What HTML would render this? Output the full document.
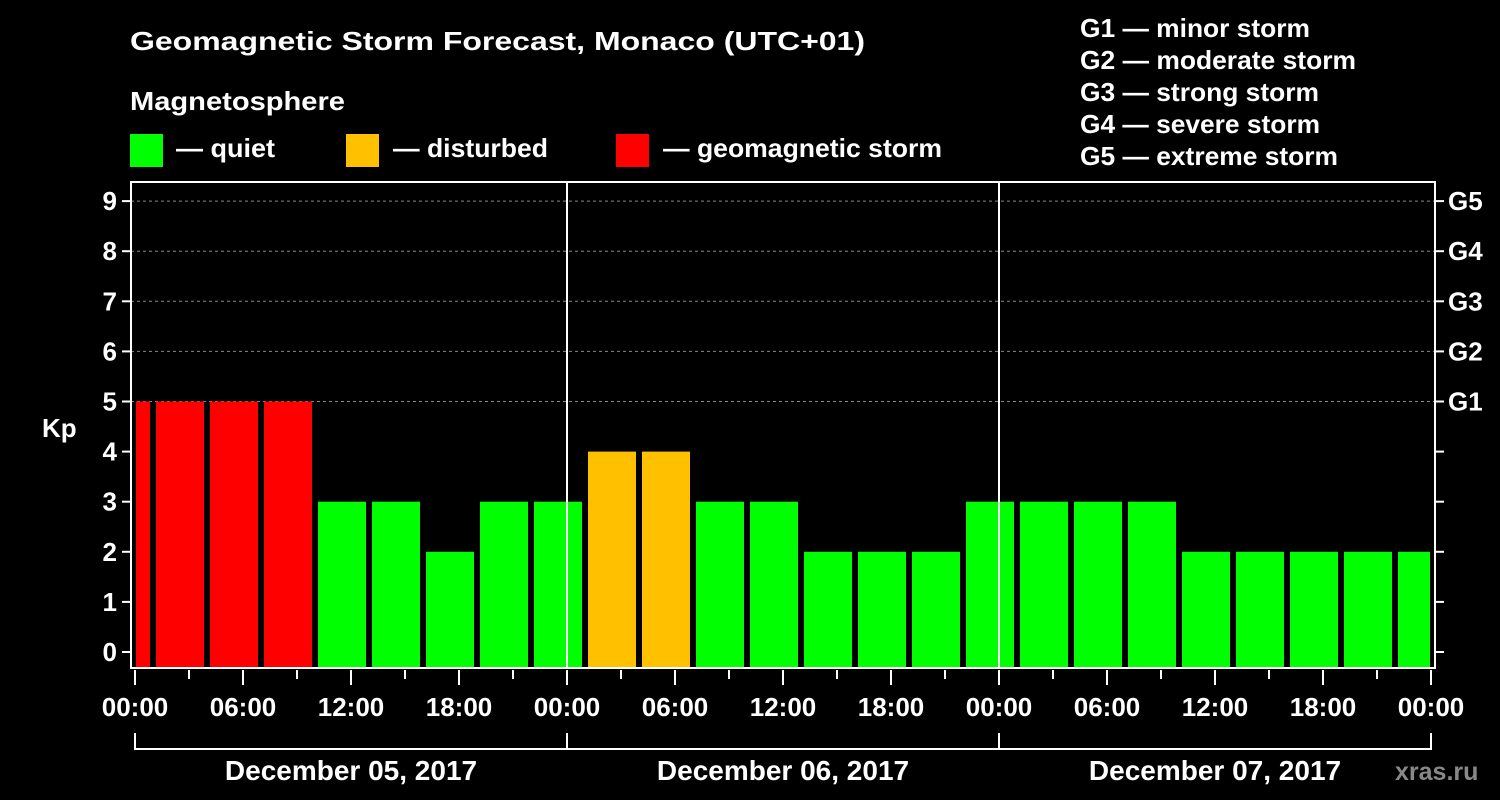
<!DOCTYPE html>
<html><head><meta charset="utf-8"><style>
html,body{margin:0;padding:0;background:#000;}
svg{display:block;font-family:"Liberation Sans",Arial,sans-serif;font-weight:bold;}
</style></head><body>
<svg id="chart" width="1500" height="800" viewBox="0 0 1500 800">
<text x="130" y="50" fill="#fff" font-size="26" textLength="735" lengthAdjust="spacingAndGlyphs">Geomagnetic Storm Forecast, Monaco (UTC+01)</text>
<text x="130" y="110" fill="#fff" font-size="26" textLength="215" lengthAdjust="spacingAndGlyphs">Magnetosphere</text>
<g><rect x="130" y="134" width="33" height="33" fill="#00ff00"/><text x="176" y="157" fill="#fff" font-size="26" textLength="99" lengthAdjust="spacingAndGlyphs">— quiet</text></g>
<g><rect x="346" y="134" width="33" height="33" fill="#ffc000"/><text x="393" y="157" fill="#fff" font-size="26" textLength="155" lengthAdjust="spacingAndGlyphs">— disturbed</text></g>
<g><rect x="616" y="134" width="33" height="33" fill="#ff0000"/><text x="663" y="157" fill="#fff" font-size="26" textLength="279" lengthAdjust="spacingAndGlyphs">— geomagnetic storm</text></g>
<g fill="#fff" font-size="26">
<text x="1080" y="37" textLength="230" lengthAdjust="spacingAndGlyphs">G1 — minor storm</text>
<text x="1080" y="69" textLength="276" lengthAdjust="spacingAndGlyphs">G2 — moderate storm</text>
<text x="1080" y="101" textLength="239" lengthAdjust="spacingAndGlyphs">G3 — strong storm</text>
<text x="1080" y="133" textLength="240" lengthAdjust="spacingAndGlyphs">G4 — severe storm</text>
<text x="1080" y="165" textLength="258" lengthAdjust="spacingAndGlyphs">G5 — extreme storm</text>
</g>
<text x="42" y="437" fill="#fff" font-size="26">Kp</text>
<text x="1395" y="780" fill="#888" font-size="25">xras.ru</text>
<g id="grid"></g><g id="bars"></g><g id="axes"></g>
</svg>
<script>
const kpValues=[5,5,5,5,3,3,2,3,3,4,4,3,3,2,2,2,3,3,3,3,2,2,2,2,2];
const dayLabels=["December 05, 2017","December 06, 2017","December 07, 2017"];
const hourLabels=["00:00","06:00","12:00","18:00"];
const gLabels=["G1","G2","G3","G4","G5"];
const NS="http://www.w3.org/2000/svg";
const x0=135,pxH=18,y0=652,pxK=50.1,pL=131,pR=1435,pT=182,pB=668;
const X=h=>x0+h*pxH, Y=k=>y0-k*pxK;
function el(t,a,p){const e=document.createElementNS(NS,t);for(const k in a)e.setAttribute(k,a[k]);document.getElementById(p).appendChild(e);return e;}
function color(v){return v>=5?"#ff0000":v>=4?"#ffc000":"#00ff00";}
for(let k=5;k<=9;k++){const l=el("line",{x1:pL,x2:pR,y1:Y(k),y2:Y(k),stroke:"#888","stroke-dasharray":"3,3"},"grid");

}
kpValues.forEach((v,i)=>{const c=-0.5+3*i;let a=X(c-1.5)+3,b=X(c+1.5)-3;a=Math.max(a,pL+5);b=Math.min(b,pR-5);
const r=el("rect",{x:a,y:Y(v),width:b-a,height:pB-Y(v),fill:color(v)},"bars");

});
const f=el("rect",{x:pL,y:pT,width:pR-pL,height:pB-pT,fill:"none",stroke:"#fff","stroke-width":2},"axes");


for(let d=1;d<dayLabels.length;d++){const l=el("line",{x1:X(24*d),x2:X(24*d),y1:pT,y2:pB,stroke:"#fff","stroke-width":2},"axes");

}
for(let k=0;k<=9;k++){
const t=el("line",{x1:pL-9,x2:pL,y1:Y(k),y2:Y(k),stroke:"#fff","stroke-width":2},"axes");


const t2=el("line",{x1:pR,x2:pR+9,y1:Y(k),y2:Y(k),stroke:"#fff","stroke-width":2},"axes");


const tx=el("text",{x:pL-14,y:Y(k)+9,fill:"#fff","font-size":26,"text-anchor":"end"},"axes");tx.textContent=k;

}
gLabels.forEach((g,i)=>{const tx=el("text",{x:1448,y:Y(5+i)+9,fill:"#fff","font-size":26},"axes");tx.textContent=g;

});
const nd=dayLabels.length;
for(let h=0;h<=24*nd;h+=3){const major=h%6==0;
const t=el("line",{x1:X(h),x2:X(h),y1:pB+2,y2:pB+(major?17:11),stroke:"#fff","stroke-width":2},"axes");


if(major){const tx=el("text",{x:X(h),y:716,fill:"#fff","font-size":26,"text-anchor":"middle"},"axes");tx.textContent=hourLabels[(h/6)%4];

}}
const br=el("line",{x1:X(0),x2:X(24*nd),y1:749,y2:749,stroke:"#fff","stroke-width":2},"axes");


for(let d=0;d<=nd;d++){const l=el("line",{x1:X(24*d),x2:X(24*d),y1:733,y2:750,stroke:"#fff","stroke-width":2},"axes");

}
dayLabels.forEach((s,d)=>{const tx=el("text",{x:X(24*d+12),y:780,fill:"#fff","font-size":28,"text-anchor":"middle"},"axes");tx.textContent=s;

});
</script>
</body></html>
